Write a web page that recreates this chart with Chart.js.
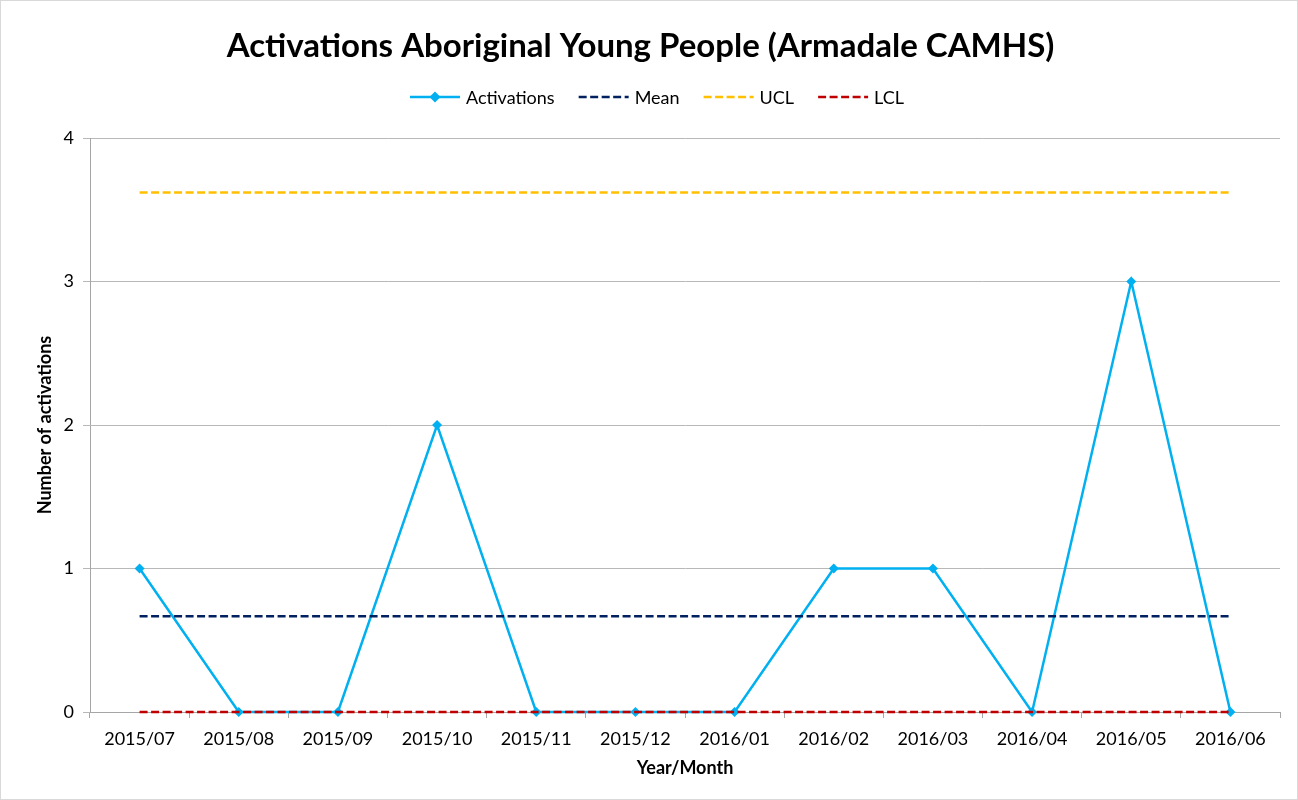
<!DOCTYPE html>
<html>
<head>
<meta charset="utf-8">
<script src="https://cdn.jsdelivr.net/npm/chart.js@4/dist/chart.umd.min.js"></script>
<style>
  html, body { margin: 0; padding: 0; background: #fff; }
  #wrap { width: 1296px; height: 798px; border: 1px solid #d9d9d9; }
</style>
</head>
<body>
<div id="wrap"><canvas id="myChart" width="1296" height="798"></canvas></div>
<script>
const months = ['2015/07','2015/08','2015/09','2015/10','2015/11','2015/12',
                '2016/01','2016/02','2016/03','2016/04','2016/05','2016/06'];
const activations = [1, 0, 0, 2, 0, 0, 0, 1, 1, 0, 3, 0];
const meanValue = 0.667;
const uclValue = 3.62;
const lclValue = 0;
const yTicks = [0, 1, 2, 3, 4];

const FONT = 'Lato, Calibri, sans-serif';

function flat(v) { return months.map(() => v); }

// legend drawn by hand so the dashed lines and the diamond look like the original
const legendPlugin = {
  id: 'excelLegend',
  afterDraw(chart) {
    const ctx = chart.ctx;
    const y = 96;
    const lineW = 50, gapText = 6, gapItem = 24;
    ctx.save();
    ctx.font = '18px ' + FONT;
    const items = chart.data.datasets.map(ds => ({
      ds, w: lineW + gapText + ctx.measureText(ds.label).width
    }));
    const total = items.reduce((s, it) => s + it.w, 0) + gapItem * (items.length - 1);
    let x = chart.width / 2 - total / 2 + 8;
    items.forEach(it => {
      const ds = it.ds;
      ctx.strokeStyle = ds.borderColor;
      ctx.lineWidth = ds.borderWidth;
      ctx.setLineDash(ds.borderDash || []);
      ctx.beginPath();
      ctx.moveTo(x, y);
      ctx.lineTo(x + lineW, y);
      ctx.stroke();
      ctx.setLineDash([]);
      if (ds.pointRadius > 0) {
        const r = 5.5;
        ctx.fillStyle = ds.borderColor;
        ctx.beginPath();
        ctx.moveTo(x + lineW / 2, y - r);
        ctx.lineTo(x + lineW / 2 + r, y);
        ctx.lineTo(x + lineW / 2, y + r);
        ctx.lineTo(x + lineW / 2 - r, y);
        ctx.closePath();
        ctx.fill();
      }
      ctx.fillStyle = '#000';
      ctx.textBaseline = 'middle';
      ctx.textAlign = 'left';
      ctx.fillText(ds.label, x + lineW + gapText, y + 1);
      x += it.w + gapItem;
    });
    ctx.restore();
  }
};

const data = {
  labels: months,
  datasets: [{
    label: 'Activations',
    data: activations,
    borderColor: '#00B0F0',
    backgroundColor: '#00B0F0',
    borderWidth: 2.5,
    pointStyle: 'rectRot',
    pointRadius: 5,
    pointBorderWidth: 0,
    tension: 0,
    clip: false,
    order: 4
  }, {
    label: 'Mean',
    data: flat(meanValue),
    borderColor: '#002060',
    borderWidth: 2.5,
    borderDash: [8, 3.5],
    pointRadius: 0,
    order: 3
  }, {
    label: 'UCL',
    data: flat(uclValue),
    borderColor: '#FFC000',
    borderWidth: 2.5,
    borderDash: [8, 3.5],
    pointRadius: 0,
    order: 2
  }, {
    label: 'LCL',
    data: flat(lclValue),
    borderColor: '#C00000',
    borderWidth: 2.5,
    borderDash: [8, 3.5],
    pointRadius: 0,
    clip: false,
    order: 1
  }]
};

const config = {
  type: 'line',
  data: data,
  plugins: [legendPlugin],
  options: {
    responsive: false,
    animation: false,
    layout: { padding: { top: 0, right: 17, bottom: 0, left: 0 } },
    plugins: {
      legend: { display: false },
      tooltip: { enabled: false },
      title: {
        display: true,
        text: 'Activations Aboriginal Young People (Armadale CAMHS)',
        color: '#000',
        font: { family: FONT, size: 33, weight: 'bold' },
        padding: { top: 26, bottom: 71.4 }
      }
    },
    scales: {
      x: {
        offset: true,
        grid: {
          offset: true,
          drawOnChartArea: false,
          color: '#a6a6a6',
          tickLength: 6
        },
        border: { color: '#a6a6a6', width: 1 },
        ticks: {
          color: '#000',
          font: { family: FONT, size: 18 },
          padding: 10,
          maxRotation: 0,
          autoSkip: false
        },
        title: {
          display: true,
          text: 'Year/Month',
          color: '#000',
          font: { family: FONT, size: 18, weight: 'bold' },
          padding: { top: 4, bottom: 20 }
        },
        afterFit(scale) { scale.height = 87; }
      },
      y: {
        min: 0,
        max: 4,
        afterBuildTicks(scale) { scale.ticks = yTicks.map(v => ({ value: v })); },
        grid: { color: '#b8b8b8', tickLength: 7 },
        border: { color: '#a6a6a6', width: 1 },
        ticks: {
          color: '#000',
          font: { family: FONT, size: 18 },
          padding: 9
        },
        title: {
          display: true,
          text: 'Number of activations',
          color: '#000',
          font: { family: FONT, size: 18, weight: 'bold' },
          padding: { top: 33, bottom: 33 }
        },
        afterFit(scale) { scale.width = 89; }
      }
    }
  }
};

var myChart = new Chart(document.getElementById('myChart'), config);
</script>
</body>
</html>
